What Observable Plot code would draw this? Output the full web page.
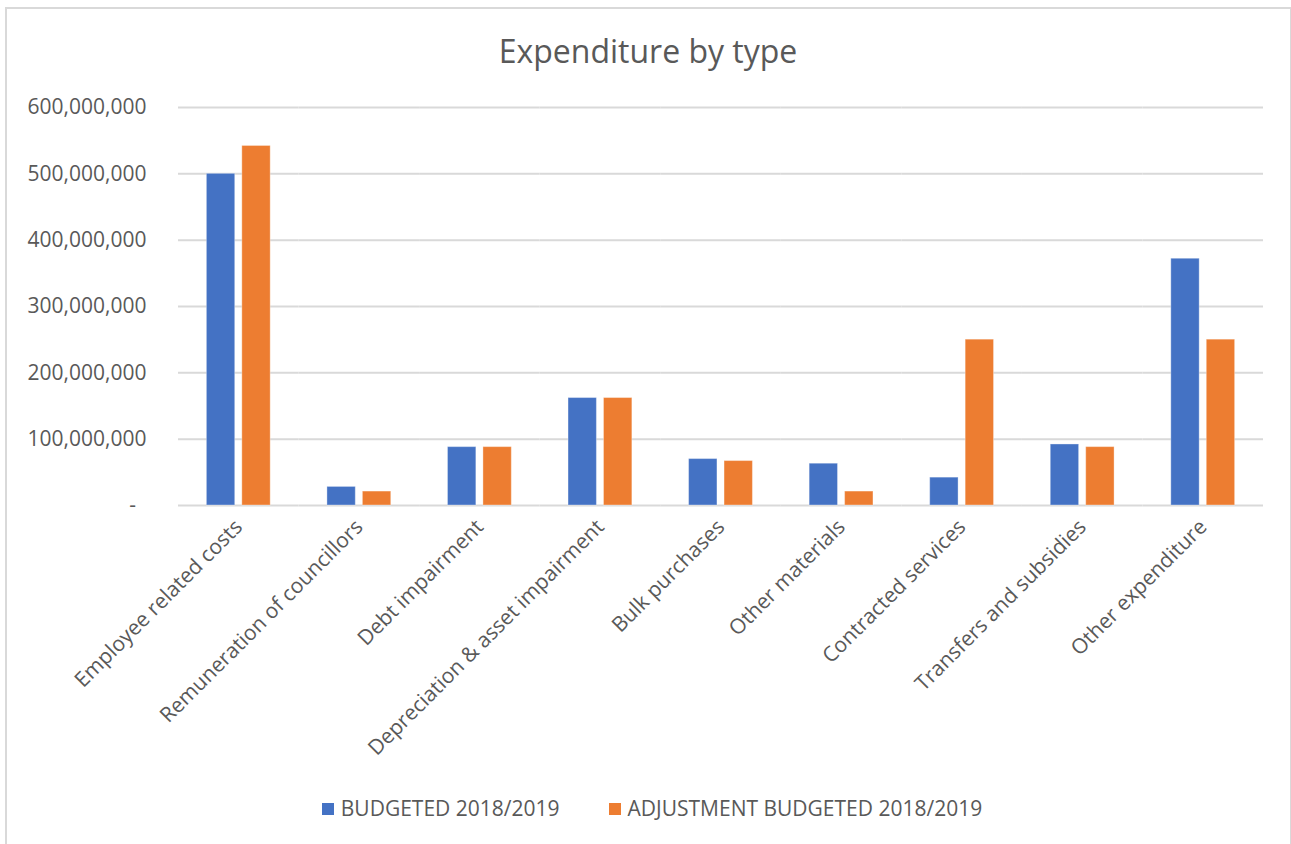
<!DOCTYPE html>
<html>
<head>
<meta charset="utf-8">
<script src="https://cdn.jsdelivr.net/npm/d3@7"></script>
<script src="https://cdn.jsdelivr.net/npm/@observablehq/plot@0.6"></script>
<style>
  html, body { margin: 0; padding: 0; background: #fff; width: 1291px; height: 844px; overflow: hidden; }
  #frame { position: absolute; left: 5px; top: 7px; width: 1283px; height: 860px; border: 2px solid #d9d9d9; box-sizing: content-box; }
  #title { position: absolute; left: 6px; width: 1284px; top: 35px; text-align: center; font-family: "Open Sans", sans-serif; font-size: 32px; line-height: 32px; color: #595959; }
  #chart { position: absolute; left: 0; top: 90px; }
  #legend { position: absolute; left: 6px; width: 1292px; top: 798px; display: flex; justify-content: center; gap: 49px; font-family: "Open Sans", sans-serif; font-size: 21px; line-height: 21px; color: #595959; }
  .item { display: flex; align-items: center; }
  .sw { width: 12px; height: 12px; margin-right: 7px; }
</style>
</head>
<body>
<div id="frame"></div>
<div id="title">Expenditure by type</div>
<div id="chart"></div>
<div id="legend"></div>
<script>
const categories = [
  "Employee related costs",
  "Remuneration of councillors",
  "Debt impairment",
  "Depreciation & asset impairment",
  "Bulk purchases",
  "Other materials",
  "Contracted services",
  "Transfers and subsidies",
  "Other expenditure"
];
const seriesNames = ["BUDGETED 2018/2019", "ADJUSTMENT BUDGETED 2018/2019"];
const budgeted   = [500e6, 28e6, 88e6, 162e6, 70e6, 63e6, 42e6, 92e6, 372e6];
const adjustment = [542e6, 21e6, 88e6, 162e6, 67e6, 21e6, 250e6, 88e6, 250e6];
const yTicks = [0, 100e6, 200e6, 300e6, 400e6, 500e6, 600e6];
const seriesColors = ["#4472C4", "#ED7D31"];

const data = categories.flatMap((c, i) => [
  {category: c, series: seriesNames[0], value: budgeted[i]},
  {category: c, series: seriesNames[1], value: adjustment[i]}
]);

const fmt = d3.format(",");
const chart = Plot.plot({
  width: 1291,
  height: 700,
  marginLeft: 178,
  marginRight: 28,
  marginTop: 17,
  marginBottom: 285,
  style: {fontFamily: "Open Sans", fontSize: "21px", color: "#595959", background: "transparent"},
  fx: {domain: categories, padding: 0, round: false, axis: "bottom", tickRotate: -45, tickSize: 0, tickPadding: 18, label: null},
  x: {domain: seriesNames, axis: null, round: false, paddingInner: 0.2, paddingOuter: 0.8},
  y: {domain: [0, 600e6], ticks: yTicks, tickFormat: d => d === 0 ? "-\u2002" : fmt(d), tickSize: 0, tickPadding: 32, label: null},
  color: {domain: seriesNames, range: seriesColors},
  marks: [
    Plot.ruleY(yTicks, {stroke: "#d9d9d9", strokeWidth: 2}),
    Plot.barY(data, {fx: "category", x: "series", y: "value", fill: "series", stroke: "#ffffff", strokeOpacity: 0.35, strokeWidth: 1})
  ]
});
document.getElementById("chart").appendChild(chart);

const legend = document.getElementById("legend");
seriesNames.forEach((s, i) => {
  const it = document.createElement("div");
  it.className = "item";
  const sw = document.createElement("div");
  sw.className = "sw";
  sw.style.background = seriesColors[i];
  const t = document.createElement("span");
  t.textContent = s;
  it.appendChild(sw);
  it.appendChild(t);
  legend.appendChild(it);
});
</script>
</body>
</html>
